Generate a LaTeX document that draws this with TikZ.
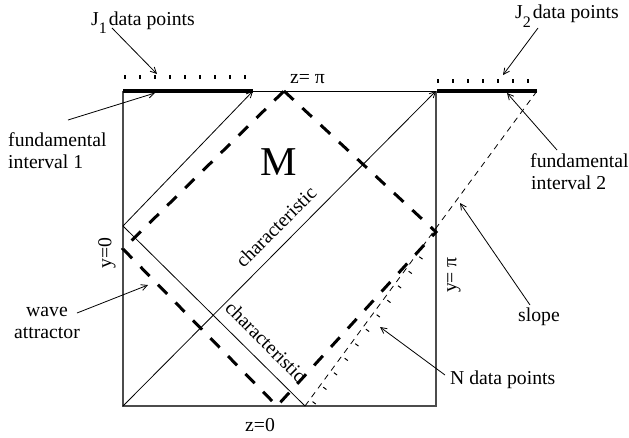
\documentclass[tikz,border=0pt]{standalone}
\usepackage{fontspec}
\setmainfont{Liberation Serif}
\usetikzlibrary{arrows.meta,calc}
\begin{document}
\begin{tikzpicture}[x=1pt,y=-1pt,
  lbl/.style={inner sep=0pt,font=\fontsize{19.7}{22}\selectfont},
  frame/.style={draw=black!70,line width=1.2pt},
  thinline/.style={draw=black,line width=0.8pt},
  thickseg/.style={draw=black,line width=4.5pt},
  pointer/.style={draw=black,line width=0.8pt,-{Straight Barb[length=6pt,width=6pt]}},
  charline/.style={draw=black,line width=0.8pt},
  charptr/.style={draw=black,line width=0.8pt,-{Straight Barb[length=6pt,width=6pt]}},
  attractor/.style={draw=black,line width=3pt,dash pattern=on 13pt off 12pt},
  slopeline/.style={draw=black,line width=0.8pt,dash pattern=on 6pt off 5pt},
  tick/.style={draw=black,line width=1.2pt}]
\useasboundingbox (0,0) rectangle (629,437);
% box corners
\coordinate (TL) at (123,91);
\coordinate (TR) at (436,91);
\coordinate (BL) at (123,406);
\coordinate (BR) at (436,406);
\coordinate (F1) at (253,91);
\coordinate (F2a) at (437,91);
\coordinate (F2b) at (537,91);
\coordinate (CL) at (123,226);
\coordinate (CB) at (305,406);
% attractor
\coordinate (AT) at (284,91);
\coordinate (AR) at (436,232);
\coordinate (AB) at (277,406);
\coordinate (AL) at (123,249);
% frame
\draw[frame] (TL) -- (BL) -- (BR) -- (TR);
\draw[thinline] (F1) -- (TR);
\draw[thickseg] (TL) -- (F1);
\draw[thickseg] (F2a) -- (F2b);
% data point ticks
\foreach \k in {0,...,8} {\draw[tick] ({125+15*\k},75) -- ({125+15*\k},79);}
\foreach \k in {0,...,6} {\draw[tick] ({438+15*\k},79) -- ({438+15*\k},83);}
% characteristics
\draw[charptr] (BL) -- (TR);
\draw[charptr] (CL) -- (F1);
\draw[charline] (CL) -- (CB);
% slope line and N data points
\draw[slopeline] (CB) -- (F2b);
\foreach \k in {0,...,10} {
  \pgfmathsetmacro\s{8+18*\k}
  \draw[tick,line width=1pt] ($(CB)+({\s*0.593+3.5*0.805},{-\s*0.805+3.5*0.593})$) -- ++({4*0.805},{4*0.593});
}
% wave attractor
\draw[attractor] (AT) -- (AR) -- (AB) -- (AL) -- cycle;
% labels
\node[lbl,anchor=base west] (j1) at (91,25) {J\raisebox{-8pt}{\fontsize{16}{16}\selectfont 1}\hspace{2pt}data points};
\node[lbl,anchor=base west] (j2) at (515,18) {J\raisebox{-9pt}{\fontsize{16}{16}\selectfont 2}\hspace{2pt}data points};
\node[lbl,anchor=base west] (zpi) at (290,83) {z= π};
\node[lbl,anchor=base west] (z0) at (245,431) {z=0};
\node[lbl,anchor=base west] (fa1) at (8,146) {fundamental};
\node[lbl,anchor=base west] (fb1) at (8,168) {interval 1};
\node[lbl,anchor=base west] (fa2) at (530,167) {fundamental};
\node[lbl,anchor=base west] (fb2) at (531,189) {interval 2};
\node[lbl,anchor=base] (wa) at (47,316) {wave};
\node[lbl,anchor=base] (wb) at (47,338) {attractor};
\node[lbl,anchor=base west] (sl) at (518,321) {slope};
\node[lbl,anchor=base west] (nd) at (450,384) {N data points};
\node[lbl,rotate=90] (y0) at (107,253) {y=0};
\node[lbl,rotate=90] (ypi) at (454,275) {y= π};
\node[lbl,rotate=45] (ch1) at (276,227) {characteristic};
\node[lbl,rotate=-45] (ch2) at (266,342) {characteristic};
\node[inner sep=0pt,font=\fontsize{41}{41}\selectfont] (M) at (279,162) {M};
% pointer arrows
\coordinate (j1s) at (112,28);   \coordinate (j1e) at (157,74);
\coordinate (j2s) at (538,28);   \coordinate (j2e) at (503,75);
\coordinate (f1s) at (68,120);   \coordinate (f1e) at (155,93);
\coordinate (f2s) at (557,150);  \coordinate (f2e) at (507,93);
\coordinate (ws) at (77,313);    \coordinate (we) at (148,285);
\coordinate (ss) at (530,305);   \coordinate (se) at (460,203);
\coordinate (ns) at (445,375);   \coordinate (ne) at (380,327);
\draw[pointer] (j1s) -- (j1e);
\draw[pointer] (j2s) -- (j2e);
\draw[pointer] (f1s) -- (f1e);
\draw[pointer] (f2s) -- (f2e);
\draw[pointer] (ws) -- (we);
\draw[pointer] (ss) -- (se);
\draw[pointer] (ns) -- (ne);
\end{tikzpicture}
\end{document}
